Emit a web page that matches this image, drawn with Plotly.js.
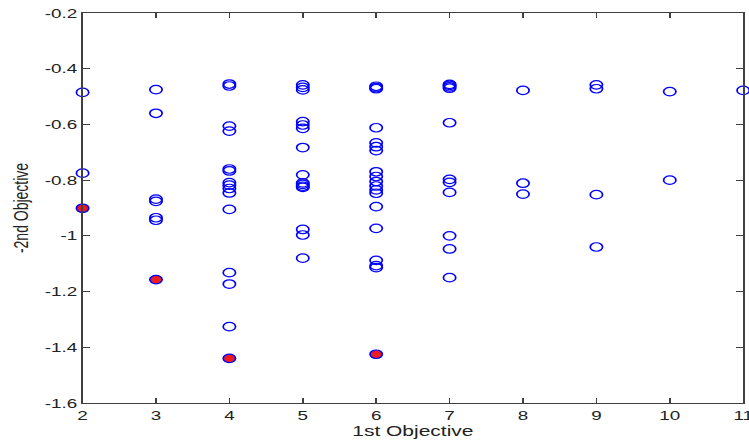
<!DOCTYPE html>
<html>
<head>
<meta charset="utf-8">
<script src="https://cdn.plot.ly/plotly-3.0.1.min.js"></script>
<style>
html,body{margin:0;padding:0;background:#fff;overflow:hidden;}
#wrap{width:749px;height:448px;overflow:hidden;}
#chart{width:517px;height:448px;transform:scaleX(1.4487);transform-origin:0 0;}
</style>
</head>
<body>
<div id="wrap"><div id="chart"></div></div>
<script>
// All solutions (blue open circles)
const allX = [
  2, 2,
  3, 3, 3, 3, 3, 3,
  4, 4, 4, 4, 4, 4, 4, 4, 4, 4, 4, 4, 4, 4,
  5, 5, 5, 5, 5, 5, 5, 5, 5, 5, 5, 5, 5, 5, 5,
  6, 6, 6, 6, 6, 6, 6, 6, 6, 6, 6, 6, 6, 6, 6, 6, 6, 6,
  7, 7, 7, 7, 7, 7, 7, 7, 7, 7, 7,
  8, 8, 8,
  9, 9, 9, 9,
  10, 10,
  11
];
const allY = [
  -0.485, -0.775,
  -0.475, -0.56, -0.868, -0.876, -0.935, -0.944,
  -0.455, -0.462, -0.606, -0.624, -0.76, -0.767, -0.809, -0.818, -0.83, -0.846, -0.905, -1.132, -1.173, -1.326,
  -0.458, -0.467, -0.476, -0.59, -0.602, -0.614, -0.683, -0.781, -0.81, -0.815, -0.822, -0.826, -0.977, -0.997, -1.08,
  -0.463, -0.468, -0.472, -0.612, -0.666, -0.68, -0.694, -0.77, -0.787, -0.805, -0.821, -0.835, -0.847, -0.895, -0.973, -1.088, -1.107, -1.114,
  -0.456, -0.46, -0.465, -0.47, -0.594, -0.797, -0.808, -0.844, -1.0, -1.047, -1.15,
  -0.478, -0.811, -0.85,
  -0.458, -0.472, -0.852, -1.04,
  -0.482, -0.8,
  -0.478
];
// Pareto-front solutions (red filled)
const paretoX = [2, 3, 4, 6];
const paretoY = [-0.901, -1.157, -1.44, -1.425];

const xTickVals = [2, 3, 4, 5, 6, 7, 8, 9, 10, 11];
const xTickText = ['2', '3', '4', '5', '6', '7', '8', '9', '10', '11'];
const yTickVals = [-1.6, -1.4, -1.2, -1, -0.8, -0.6, -0.4, -0.2];
const yTickText = ['-1.6', '-1.4', '-1.2', '-1', '-0.8', '-0.6', '-0.4', '-0.2'];

const FONT = 'Liberation Sans, Arial, sans-serif';

const traces = [
  {
    x: allX, y: allY, type: 'scatter', mode: 'markers', cliponaxis: false,
    marker: {symbol: 'circle-open', size: 8.5, color: '#0000ff', line: {width: 1.2, color: '#0000ff'}},
    hoverinfo: 'x+y'
  },
  {
    x: paretoX, y: paretoY, type: 'scatter', mode: 'markers', cliponaxis: false,
    marker: {symbol: 'circle', size: 8.5, color: '#ee1c1c', line: {width: 1.2, color: '#0000ff'}},
    hoverinfo: 'x+y'
  }
];

const axisCommon = {
  showgrid: false, zeroline: false, showline: true, mirror: 'ticks',
  linecolor: '#404040', linewidth: 1.1, ticks: 'inside', ticklen: 5,
  tickcolor: '#404040', tickwidth: 1, ticklabeloverflow: 'allow',
  tickfont: {family: FONT, size: 13, color: '#222'}
};

const layout = {
  width: 517, height: 448,
  margin: {l: 57, r: 4, t: 13, b: 45},
  paper_bgcolor: '#fff', plot_bgcolor: '#fff',
  showlegend: false,
  xaxis: Object.assign({}, axisCommon, {
    range: [2, 11], tickmode: 'array', tickvals: xTickVals, ticktext: xTickText,
    title: {text: '1st Objective', font: {family: FONT, size: 14.5, color: '#222'}, standoff: 3}
  }),
  yaxis: Object.assign({}, axisCommon, {
    range: [-1.6, -0.2], tickmode: 'array', tickvals: yTickVals, ticktext: yTickText,
    title: {text: '-2nd Objective', font: {family: FONT, size: 14, color: '#222'}, standoff: 7}
  })
};

Plotly.newPlot('chart', traces, layout, {displayModeBar: false, staticPlot: true});
</script>
</body>
</html>
